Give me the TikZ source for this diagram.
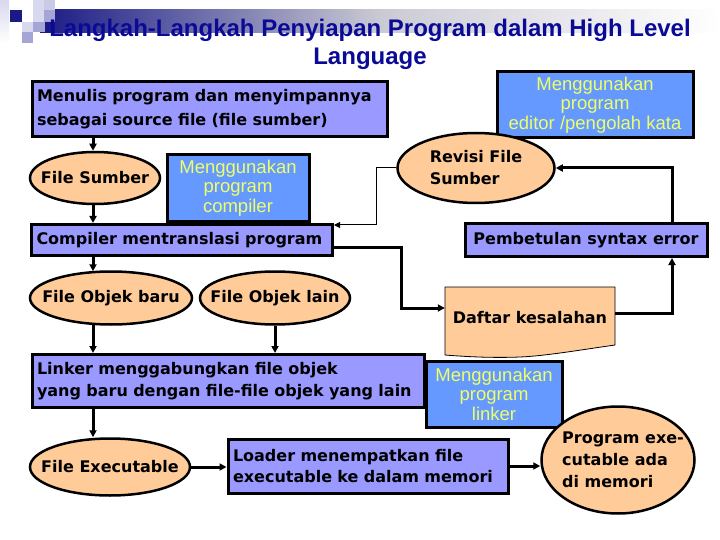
\documentclass[tikz,border=0pt]{standalone}
\usepackage{fontspec}
\setmainfont{DejaVu Sans}
\newfontfamily\arialfont{Liberation Sans}
\usetikzlibrary{arrows.meta, positioning, calc, shapes.geometric}
\definecolor{boxlav}{HTML}{9999FF}
\definecolor{boxblue}{HTML}{6699FF}
\definecolor{peach}{HTML}{FFCC99}
\definecolor{noteyellow}{HTML}{EEFF66}
\definecolor{titleblue}{HTML}{0A0A96}
\definecolor{navysq}{HTML}{1A1A86}
\definecolor{lightsq}{HTML}{D8D8EE}
\definecolor{midsq}{HTML}{A6A6D6}
\definecolor{bandgrey}{HTML}{CACAD4}
\tikzset{
    stepbox/.style={draw, line width=3pt, fill=boxlav, font=\bfseries\fontsize{16}{21}\selectfont, align=left, inner sep=5pt},
    notebox/.style={draw, line width=3pt, fill=boxblue, text=noteyellow, font=\arialfont\fontsize{18.5}{19.5}\selectfont, align=center, inner sep=2pt},
    filenode/.style={ellipse, draw, line width=2.5pt, fill=peach, inner sep=0pt},
    filetext/.style={font=\bfseries\fontsize{16}{22}\selectfont, align=left, inner sep=0pt},
    myarrow/.style={-{Triangle[length=7pt, width=7pt]}, line width=3pt},
    thinarrow/.style={-{Triangle[length=6pt, width=6pt]}, line width=1pt},
}

\begin{document}
\begin{tikzpicture}[x=1pt, y=-1pt]

\useasboundingbox (0,0) rectangle (720,540);
\fill[white] (0,0) rectangle (720,540);

% ============================================================
% HEADER
% ============================================================
\shade[left color=navysq, right color=bandgrey] (40,10) rectangle (380,33);
\shade[left color=bandgrey, right color=white] (380,10) rectangle (720,33);
\shade[top color=lightsq, bottom color=white] (0,0) rectangle (9,43);
\fill[navysq] (10,10) rectangle (22,22);
\fill[lightsq] (33,0) rectangle (44,10);
\fill[midsq!60] (44,0) rectangle (55,10);
\fill[lightsq] (33,10) rectangle (44,22);
\fill[midsq] (44,10) rectangle (55,22);
\fill[lightsq] (22,22) rectangle (33,32);
\fill[midsq] (33,22) rectangle (45,32);
\fill[navysq] (45,22) rectangle (55,32);
\fill[midsq] (22,32) rectangle (33,43);

\node[font=\arialfont\bfseries\fontsize{24}{28}\selectfont, text=titleblue, align=center] (title) at (370,44)
    {Langkah-Langkah Penyiapan Program dalam High Level\\Language};

% ============================================================
% SOURCE FILE
% ============================================================
\node[stepbox, minimum width=355, minimum height=55, text width=345, font=\bfseries\fontsize{16}{24}\selectfont] (menulis) at (209.5,109.5)
    {Menulis program dan menyimpannya\\sebagai source file (file sumber)};
\node[notebox, minimum width=196, minimum height=66] (editor) at (595,105)
    {Menggunakan\\program\\editor /pengolah kata};
\node[filenode, minimum width=130, minimum height=52, label={[filetext]center:File Sumber}] (fsumber) at (95,178) {};
\node[notebox, minimum width=142, minimum height=67] (pcompiler) at (238,188)
    {Menggunakan\\program\\compiler};

% ============================================================
% COMPILE
% ============================================================
\node[stepbox, minimum width=301, minimum height=31, text width=291] (compiler) at (182,240)
    {Compiler mentranslasi program};
\node[filenode, minimum width=162, minimum height=53, label={[filetext]center:File Objek baru}] (objbaru) at (111,298) {};
\node[filenode, minimum width=150, minimum height=53, label={[filetext]center:File Objek lain}] (objlain) at (275,298) {};

% Error loop
\node[filenode, minimum width=157, minimum height=70, label={[filetext]center:Revisi File\\Sumber}] (revisi) at (476,168) {};
\node[stepbox, minimum width=242, minimum height=33, align=center] (pembetulan) at (586,240)
    {Pembetulan syntax error};
\draw[line width=0.8pt, fill=peach] (445,287) -- (615,287) -- (615,345)
    .. controls (580,350) and (545,356) .. (520,357) .. controls (495,358) and (470,357) .. (445,355) -- cycle;
\node[font=\bfseries\fontsize{16}{21}\selectfont, minimum width=170, minimum height=62] (daftar) at (530,318)
    {Daftar kesalahan};

% ============================================================
% LINK AND LOAD
% ============================================================
\node[stepbox, minimum width=392, minimum height=53, text width=382, font=\bfseries\fontsize{16}{22}\selectfont] (linker) at (228,381)
    {Linker menggabungkan file objek\\yang baru dengan file-file objek yang lain};
\node[notebox, minimum width=136, minimum height=66] (plinker) at (494,394)
    {Menggunakan\\program\\linker};
\node[filenode, minimum width=160, minimum height=57, label={[filetext]center:File Executable}] (fexec) at (110,467) {};
\node[stepbox, minimum width=280, minimum height=54, text width=270] (loader) at (368,466)
    {Loader menempatkan file\\executable ke dalam memori};
\node[filenode, minimum width=153, minimum height=107, label={[filetext, xshift=5]center:Program exe-\\cutable ada\\di memori}] (pexec) at (618,460) {};

% Connectors
\coordinate (colx) at (93,0);
\draw[myarrow] (menulis.south -| colx) -- (fsumber.north -| colx);
\draw[myarrow] (fsumber.south -| colx) -- (compiler.north -| colx);
\draw[myarrow] (compiler.south -| colx) -- ([yshift=-1]objbaru.north -| colx);
\draw[myarrow] ([yshift=1]objbaru.south -| colx) -- (linker.north -| colx);
\draw[myarrow] (objlain.south) -- (linker.north -| objlain.south);
\draw[myarrow] (linker.south -| colx) -- (fexec.north -| colx);
\draw[myarrow] (fexec.east) -- (fexec.east -| loader.west);
\draw[myarrow] (loader.east) -- (loader.east -| pexec.west);

\draw[thinarrow] (revisi.west) -- ++(-20,0) |- ([yshift=-2]compiler.north east);
\draw[myarrow] ([yshift=-7]compiler.east) -- ++(67,0) |- ([yshift=10]daftar.west);
\draw[myarrow] ([yshift=5]daftar.east) -| ([xshift=86]pembetulan.south);
\draw[myarrow] ([xshift=86]pembetulan.north) |- (revisi.east);

\end{tikzpicture}
\end{document}
